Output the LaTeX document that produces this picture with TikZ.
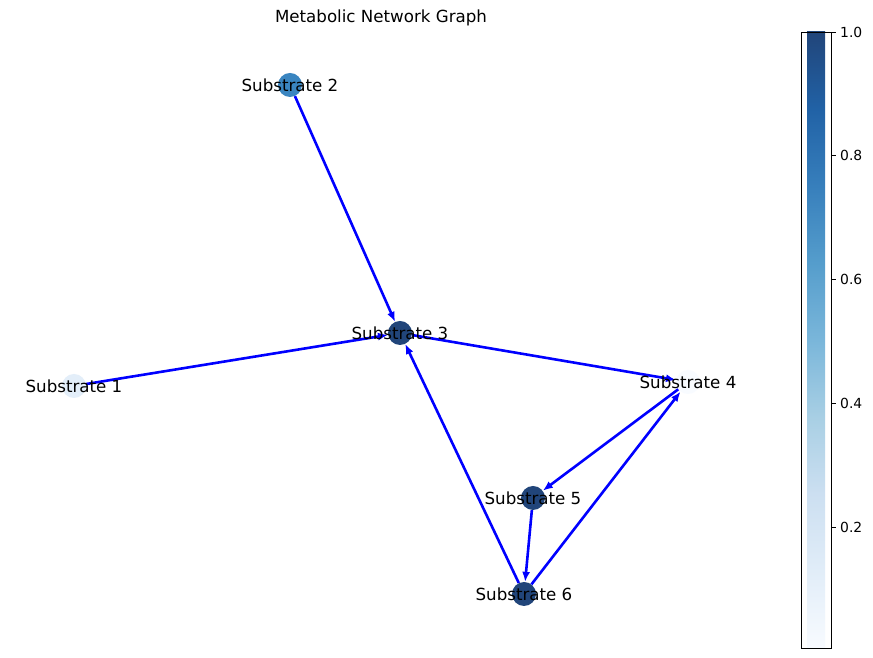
\documentclass[tikz,border=0pt]{standalone}
\usepackage{fontspec}
\setmainfont{DejaVu Sans}
\usetikzlibrary{arrows.meta}
\definecolor{c0}{RGB}{248,251,255}
\definecolor{c8}{RGB}{33,69,122}
\definecolor{ntwo}{RGB}{58,133,192}
\definecolor{nlight}{RGB}{227,238,249}
\pgfdeclareverticalshading{bluesbar}{30bp}{rgb(0bp)=(0.973,0.984,1);
 rgb(25bp)=(0.973,0.984,1);
 rgb(31.25bp)=(0.882,0.929,0.973);
 rgb(37.5bp)=(0.8,0.875,0.945);
 rgb(43.75bp)=(0.659,0.812,0.894);
 rgb(50bp)=(0.478,0.714,0.855);
 rgb(56.25bp)=(0.333,0.616,0.8);
 rgb(62.5bp)=(0.216,0.498,0.737);
 rgb(68.75bp)=(0.129,0.384,0.651);
 rgb(75bp)=(0.129,0.271,0.478);
 rgb(100bp)=(0.129,0.271,0.478)}
\tikzset{
  x=1bp,y=1bp,
  sub/.style={circle,inner sep=0pt,minimum size=24bp,draw=none},
  lbl/.style={font=\fontsize{16.67bp}{20bp}\selectfont,inner sep=0pt},
  edge/.style={blue,line width=2.6bp,-{Latex[length=10bp,width=8bp]}},
  tick/.style={font=\fontsize{13.9bp}{16bp}\selectfont,anchor=west,inner sep=0pt}
}
\begin{document}
\begin{tikzpicture}
\useasboundingbox[fill=white] (0,0) rectangle (873,658);
% nodes
\node[sub,fill=nlight] (s1) at (74,272) {};
\node[sub,fill=ntwo] (s2) at (290,573) {};
\node[sub,fill=c8] (s3) at (400,325) {};
\node[sub,fill=c0] (s4) at (688,276) {};
\node[sub,fill=c8] (s5) at (533,160) {};
\node[sub,fill=c8] (s6) at (524,64) {};
% edges
\draw[edge] (s2) -- (s3);
\draw[edge] (s1) -- (s3);
\draw[edge] (s3) -- (s4);
\draw[edge] (s4) -- (s5);
\draw[edge] (s5) -- (s6);
\draw[edge] (s6) -- (s4);
\draw[edge] (s6) -- (s3);
% labels
\node[lbl] (l1) at (s1) {Substrate 1};
\node[lbl] (l2) at (s2) {Substrate 2};
\node[lbl] (l3) at (s3) {Substrate 3};
\node[lbl] (l4) at (s4) {Substrate 4};
\node[lbl] (l5) at (s5) {Substrate 5};
\node[lbl] (l6) at (s6) {Substrate 6};
% title
\node[lbl] (title) at (381,640) {Metabolic Network Graph};
% colorbar
\shade[shading=bluesbar] (801,10) rectangle (831,626);
\draw[line width=0.9bp] (801,10) rectangle (831,626);
\foreach \v/\yy in {1.0/626,0.8/502.25,0.6/378.5,0.4/254.75,0.2/131}{
  \draw[line width=0.9bp] (831,\yy) -- (836,\yy);
  \node[tick] at (840,\yy) {\v};
}
\end{tikzpicture}
\end{document}
